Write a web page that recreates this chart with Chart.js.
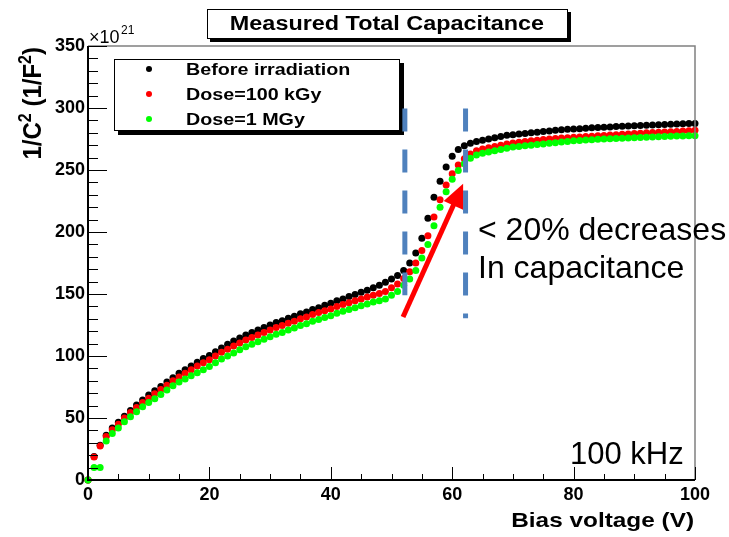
<!DOCTYPE html>
<html>
<head>
<meta charset="utf-8">
<script src="https://cdn.jsdelivr.net/npm/chart.js@4.4.1/dist/chart.umd.min.js"></script>
<style>
html, body { margin: 0; padding: 0; background: #fff; }
#wrap { width: 729px; height: 537px; }
</style>
</head>
<body>
<div id="wrap"><canvas id="cv" width="729" height="537"></canvas></div>
<script>
// bias voltage steps (V)
var biasV = [0,1,2,3,4,5,6,7,8,9,10,11,12,13,14,15,16,17,18,19,20,21,22,23,24,25,26,27,28,29,30,31,32,33,34,35,36,37,38,39,40,41,42,43,44,45,46,47,48,49,50,51,52,53,54,55,56,57,58,59,60,61,62,63,64,65,66,67,68,69,70,71,72,73,74,75,76,77,78,79,80,81,82,83,84,85,86,87,88,89,90,91,92,93,94,95,96,97,98,99,100];

// 1/C^2 in units of 1e21 F^-2
var beforeIrr = [0,19,28,36,42,46.5,51.5,56,60.5,64.5,68.5,72,75.5,79,82.5,86,89,92,95,98,100.5,103.5,106.5,109.5,112,114.5,117,119,121,123,125,127,128.5,130.5,132,134,135.5,137.5,139,141,142.5,144.5,146,148,149.5,151.5,153,155,157,159.5,162,165,169,175,183,195,211,228,241,252.5,261,266.5,269.5,271.5,273,274,275,276,277,278,278.5,279,279.5,280,280.5,281,281.5,282,282.5,282.8,283,283.3,283.6,284,284.2,284.5,284.7,285,285.2,285.4,285.6,285.8,286,286.2,286.4,286.6,286.8,287,287.2,287.4,287.6];
var dose100kGy = [0,18.5,27.5,35,40.5,45,50,54.5,58.5,62.5,66,69.5,73,76.5,80,83,86,89,92,94.5,97,100,103,105.5,108,110.5,113,115,117,119,121,123,124.5,126.5,128,130,131.5,133.5,135,136.5,138,140,141.5,143,144.5,146,147.5,149,150.5,152,155,158,162.5,168,175,185,197,212,226,238,247,254,259,263,265.5,267,268,269,270,271,271.8,272.4,273,273.5,274,274.5,275,275.4,275.8,276.1,276.4,276.7,277,277.3,277.6,277.9,278.2,278.5,278.8,279.1,279.4,279.7,280,280.2,280.4,280.6,280.8,281.1,281.4,281.7,282];
var dose1MGy = [0,10,10,31.5,37.5,42,47,51,55,59,62.5,65.5,69,72.5,76,79,81.5,84,86.5,89,91.5,94.5,97.5,100,102.5,105,107.5,109.5,111.5,113.5,115.5,117.5,119,121,122.5,124.5,126,128,129.5,131,132.5,134.5,136,137.5,139,140.5,142,143.5,144.5,146,149,152,157,162,169,179,190,205,220,232.5,242.5,249.5,255,259.5,262,263.5,264.5,265.5,266.5,267.5,268.5,269,269.5,270,270.5,271,271.5,272,272.5,273,273.5,273.8,274.1,274.4,274.7,275,275.2,275.4,275.6,275.8,276,276.2,276.4,276.6,276.8,277,277.2,277.4,277.5,277.6,277.7];

var seriesNames = ['Before irradiation', 'Dose=100 kGy', 'Dose=1 MGy'];
var seriesColors = ['#000000', '#ff0000', '#00ff00'];
var xTicks = [0, 20, 40, 60, 80, 100];
var yTicks = [0, 50, 100, 150, 200, 250, 300, 350];

var FONT = "'Liberation Sans', Arial, sans-serif";

function txt(ctx, s, x, y, font, align, sx) {
  ctx.save();
  ctx.translate(x, y);
  ctx.scale(sx || 1, 1);
  ctx.font = font;
  ctx.textAlign = align;
  ctx.textBaseline = 'middle';
  ctx.fillStyle = '#000';
  ctx.fillText(s, 0, 0);
  ctx.restore();
}

// y title with real superscripts, right-aligned at the top of the axis
function yTitle(ctx, x, y) {
  var parts = [['1/C', 0], ['2', 1], [' (1/F', 0], ['2', 1], [')', 0]];
  var big = 'bold 24px ' + FONT, small = 'bold 16px ' + FONT;
  ctx.save();
  ctx.translate(x, y);
  ctx.rotate(-Math.PI / 2);
  ctx.scale(1, 1.1);
  ctx.fillStyle = '#000';
  ctx.textBaseline = 'alphabetic';
  var total = 0, i;
  for (i = 0; i < parts.length; i++) {
    ctx.font = parts[i][1] ? small : big;
    total += ctx.measureText(parts[i][0]).width;
  }
  var cx = -total;
  for (i = 0; i < parts.length; i++) {
    ctx.font = parts[i][1] ? small : big;
    ctx.fillText(parts[i][0], cx, parts[i][1] ? -1 : 8);
    cx += ctx.measureText(parts[i][0]).width;
  }
  ctx.restore();
}

// frame, inward ticks, titles, legend and the hand-drawn annotations
var decorations = {
  id: 'decorations',
  afterDatasetsDraw: function (chart) {
    var ctx = chart.ctx, a = chart.chartArea;
    var xs = chart.scales.x, ys = chart.scales.y;
    var i, p;
    ctx.save();

    // top / right frame
    ctx.strokeStyle = '#808080';
    ctx.lineWidth = 1.5;
    ctx.beginPath();
    ctx.moveTo(a.left, a.top);
    ctx.lineTo(a.right, a.top);
    ctx.lineTo(a.right, a.bottom);
    ctx.stroke();

    // ticks
    ctx.strokeStyle = '#000';
    ctx.lineWidth = 1;
    ctx.beginPath();
    for (i = 0; i <= 100; i += 5) {
      p = Math.round(xs.getPixelForValue(i)) + 0.5;
      var lx = (i % 20 === 0) ? 13 : 6;
      ctx.moveTo(p, a.bottom);
      ctx.lineTo(p, a.bottom - lx);
    }
    for (i = 0; i <= 350; i += 10) {
      p = Math.round(ys.getPixelForValue(i)) + 0.5;
      var ly = (i % 50 === 0) ? 19 : 10;
      ctx.moveTo(a.left, p);
      ctx.lineTo(a.left + ly, p);
    }
    ctx.stroke();

    // left / bottom axis lines
    ctx.lineWidth = 2;
    ctx.beginPath();
    ctx.moveTo(a.left, a.top);
    ctx.lineTo(a.left, a.bottom);
    ctx.lineTo(a.right, a.bottom);
    ctx.stroke();

    // exponent
    txt(ctx, '\u00d710', 89, 38, '18px ' + FONT, 'left', 1);
    txt(ctx, '21', 121, 31, '12px ' + FONT, 'left', 1);

    // axis titles
    txt(ctx, 'Bias voltage (V)', 694, 521, 'bold 21px ' + FONT, 'right', 1.16);
    yTitle(ctx, 32, 47);

    // title box
    ctx.fillStyle = '#000';
    ctx.fillRect(210, 12, 361, 30);
    ctx.fillStyle = '#fff';
    ctx.fillRect(207, 9, 361, 30);
    ctx.strokeStyle = '#000';
    ctx.lineWidth = 1;
    ctx.strokeRect(207.5, 9.5, 360, 29);
    txt(ctx, 'Measured Total Capacitance', 387, 24, 'bold 20px ' + FONT, 'center', 1.17);

    // legend
    ctx.fillStyle = '#000';
    ctx.fillRect(118, 63, 286, 72);
    ctx.fillStyle = '#fff';
    ctx.fillRect(114, 59, 286, 72);
    ctx.strokeRect(114.5, 59.5, 285, 71);
    var ly0 = [69, 94, 119];
    for (i = 0; i < seriesNames.length; i++) {
      ctx.fillStyle = seriesColors[i];
      ctx.beginPath();
      ctx.arc(149, ly0[i], 3, 0, Math.PI * 2);
      ctx.fill();
      txt(ctx, seriesNames[i], 186, ly0[i] + 1, 'bold 17px ' + FONT, 'left', 1.16);
    }

    // dashed markers around the depletion step
    ctx.strokeStyle = '#4f81bd';
    ctx.lineWidth = 5;
    ctx.setLineDash([23, 18]);
    ctx.beginPath();
    ctx.moveTo(xs.getPixelForValue(52.2), ys.getPixelForValue(299.5));
    ctx.lineTo(xs.getPixelForValue(52.2), ys.getPixelForValue(149));
    ctx.moveTo(xs.getPixelForValue(62.2), ys.getPixelForValue(299.5));
    ctx.lineTo(xs.getPixelForValue(62.2), ys.getPixelForValue(130.5));
    ctx.stroke();
    ctx.setLineDash([]);

    // red arrow
    var x0 = xs.getPixelForValue(51.9), y0 = ys.getPixelForValue(131.5);
    var x1 = xs.getPixelForValue(61.8), y1 = ys.getPixelForValue(239);
    var ang = Math.atan2(y1 - y0, x1 - x0);
    ctx.strokeStyle = '#ff0000';
    ctx.fillStyle = '#ff0000';
    ctx.lineWidth = 5;
    ctx.beginPath();
    ctx.moveTo(x0, y0);
    ctx.lineTo(x1 - 10 * Math.cos(ang), y1 - 10 * Math.sin(ang));
    ctx.stroke();
    ctx.beginPath();
    ctx.moveTo(x1, y1);
    ctx.lineTo(x1 - 26 * Math.cos(ang - 0.42), y1 - 26 * Math.sin(ang - 0.42));
    ctx.lineTo(x1 - 26 * Math.cos(ang + 0.42), y1 - 26 * Math.sin(ang + 0.42));
    ctx.closePath();
    ctx.fill();

    // notes
    txt(ctx, '< 20% decreases', 478, 231, '32px ' + FONT, 'left', 1);
    txt(ctx, 'In capacitance', 478, 269, '32px ' + FONT, 'left', 1);
    txt(ctx, '100 kHz', 570, 455, '31px ' + FONT, 'left', 1);

    ctx.restore();
  }
};

function pts(ys) {
  return biasV.map(function (v, i) { return { x: v, y: ys[i] }; });
}

var seriesData = [beforeIrr, dose100kGy, dose1MGy];
var datasets = seriesData.map(function (d, i) {
  return {
    label: seriesNames[i],
    data: pts(d),
    backgroundColor: seriesColors[i],
    borderWidth: 0,
    pointRadius: 3.5,
    pointHoverRadius: 3.5,
    showLine: false,
    clip: false,
    order: 2 - i
  };
});

new Chart(document.getElementById('cv').getContext('2d'), {
  type: 'scatter',
  data: { datasets: datasets },
  options: {
    responsive: false,
    animation: false,
    layout: { padding: { left: 0, right: 34, top: 46, bottom: 0 } },
    plugins: { legend: { display: false }, tooltip: { enabled: false } },
    scales: {
      x: {
        type: 'linear', min: 0, max: 100,
        grid: { display: false, drawTicks: false },
        border: { display: false },
        afterFit: function (s) { s.height = 57; },
        afterBuildTicks: function (s) { s.ticks = xTicks.map(function (v) { return { value: v }; }); },
        ticks: { autoSkip: false, maxRotation: 0, padding: 4, color: '#000', font: { family: FONT, size: 18, weight: 'bold' } }
      },
      y: {
        type: 'linear', min: 0, max: 350,
        grid: { display: false, drawTicks: false },
        border: { display: false },
        afterFit: function (s) { s.width = 88; },
        afterBuildTicks: function (s) { s.ticks = yTicks.map(function (v) { return { value: v }; }); },
        ticks: { autoSkip: false, padding: 3, color: '#000', font: { family: FONT, size: 18, weight: 'bold' } }
      }
    }
  },
  plugins: [decorations]
});
</script>
</body>
</html>
